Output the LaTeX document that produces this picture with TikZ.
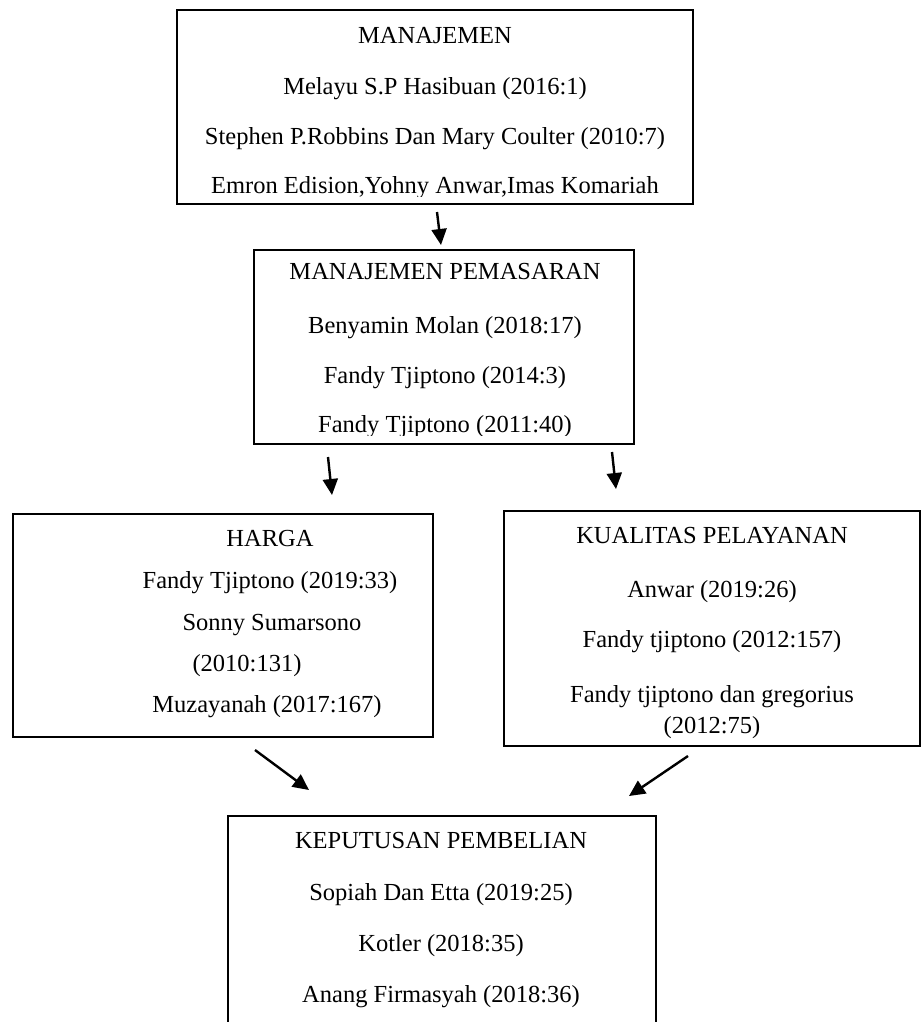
\documentclass[tikz,border=0pt]{standalone}
\usepackage{fontspec}
\setmainfont{Liberation Serif}
\usetikzlibrary{arrows.meta}
\begin{document}
\begin{tikzpicture}[x=1pt,y=-1pt,
  frame/.style={draw, line width=1.7pt, inner sep=0pt, outer sep=0pt},
  txt/.style={anchor=base, inner sep=0pt, font=\fontsize{24.5}{29}\selectfont},
  conn/.style={line width=2.4pt, -{Triangle[length=16pt,width=15pt]}}]
\useasboundingbox (0,0) rectangle (922,1022);
% boxes
\node[frame, minimum width=516pt, minimum height=194pt] (b1) at (435,107) {};
\node[frame, minimum width=380pt, minimum height=194pt] (b2) at (444,347) {};
\node[frame, minimum width=420pt, minimum height=223pt] (b3) at (223,625.5) {};
\node[frame, minimum width=416pt, minimum height=235pt] (b4) at (712,628.5) {};
\node[inner sep=0pt, outer sep=0pt, minimum width=428pt, minimum height=220pt] (b5) at (442,926) {};
\draw[line width=1.7pt] (b5.south west) -- (b5.north west) -- (b5.north east) -- (b5.south east);
% box 1 texts
\node[txt] (t11) at (435,44) {MANAJEMEN};
\node[txt] (t12) at (435,95) {Melayu S.P Hasibuan (2016:1)};
\node[txt] (t13) at (435,144) {Stephen P.Robbins Dan Mary Coulter (2010:7)};
\begin{scope}
\clip (177,150) rectangle (693,196);
\node[txt] (t14) at (435,193) {Emron Edision,Yohny Anwar,Imas Komariah};
\end{scope}
% box 2 texts
\node[txt] (t21) at (445,279) {MANAJEMEN PEMASARAN};
\node[txt] (t22) at (445,333) {Benyamin Molan (2018:17)};
\node[txt] (t23) at (445,383) {Fandy Tjiptono (2014:3)};
\begin{scope}
\clip (254,390) rectangle (634,435);
\node[txt] (t24) at (445,432) {Fandy Tjiptono (2011:40)};
\end{scope}
% box 3 texts
\node[txt] (t31) at (270,546) {HARGA};
\node[txt] (t32) at (270,588) {Fandy Tjiptono (2019:33)};
\node[txt] (t33) at (272,630) {Sonny Sumarsono};
\node[txt] (t34) at (247,671) {(2010:131)};
\node[txt] (t35) at (267,712) {Muzayanah (2017:167)};
% box 4 texts
\node[txt] (t41) at (712,543) {KUALITAS PELAYANAN};
\node[txt] (t42) at (712,597) {Anwar (2019:26)};
\node[txt] (t43) at (712,647) {Fandy tjiptono (2012:157)};
\node[txt] (t44) at (712,702) {Fandy tjiptono dan gregorius};
\node[txt] (t45) at (712,733) {(2012:75)};
% box 5 texts
\node[txt] (t51) at (441,848) {KEPUTUSAN PEMBELIAN};
\node[txt] (t52) at (441,900) {Sopiah Dan Etta (2019:25)};
\node[txt] (t53) at (441,951) {Kotler (2018:35)};
\node[txt] (t54) at (441,1002) {Anang Firmasyah (2018:36)};
% arrow end points
\coordinate (a1s) at (437,212);
\coordinate (a1e) at (441,245);
\coordinate (a2s) at (328,457);
\coordinate (a2e) at (332,495);
\coordinate (a3s) at (612,452);
\coordinate (a3e) at (616,489);
\coordinate (a4s) at (255,750);
\coordinate (a4e) at (309,790);
\coordinate (a5s) at (688,756);
\coordinate (a5e) at (629,796);
\draw[conn] (a1s) -- (a1e);
\draw[conn] (a2s) -- (a2e);
\draw[conn] (a3s) -- (a3e);
\draw[conn] (a4s) -- (a4e);
\draw[conn] (a5s) -- (a5e);
\end{tikzpicture}
\end{document}
